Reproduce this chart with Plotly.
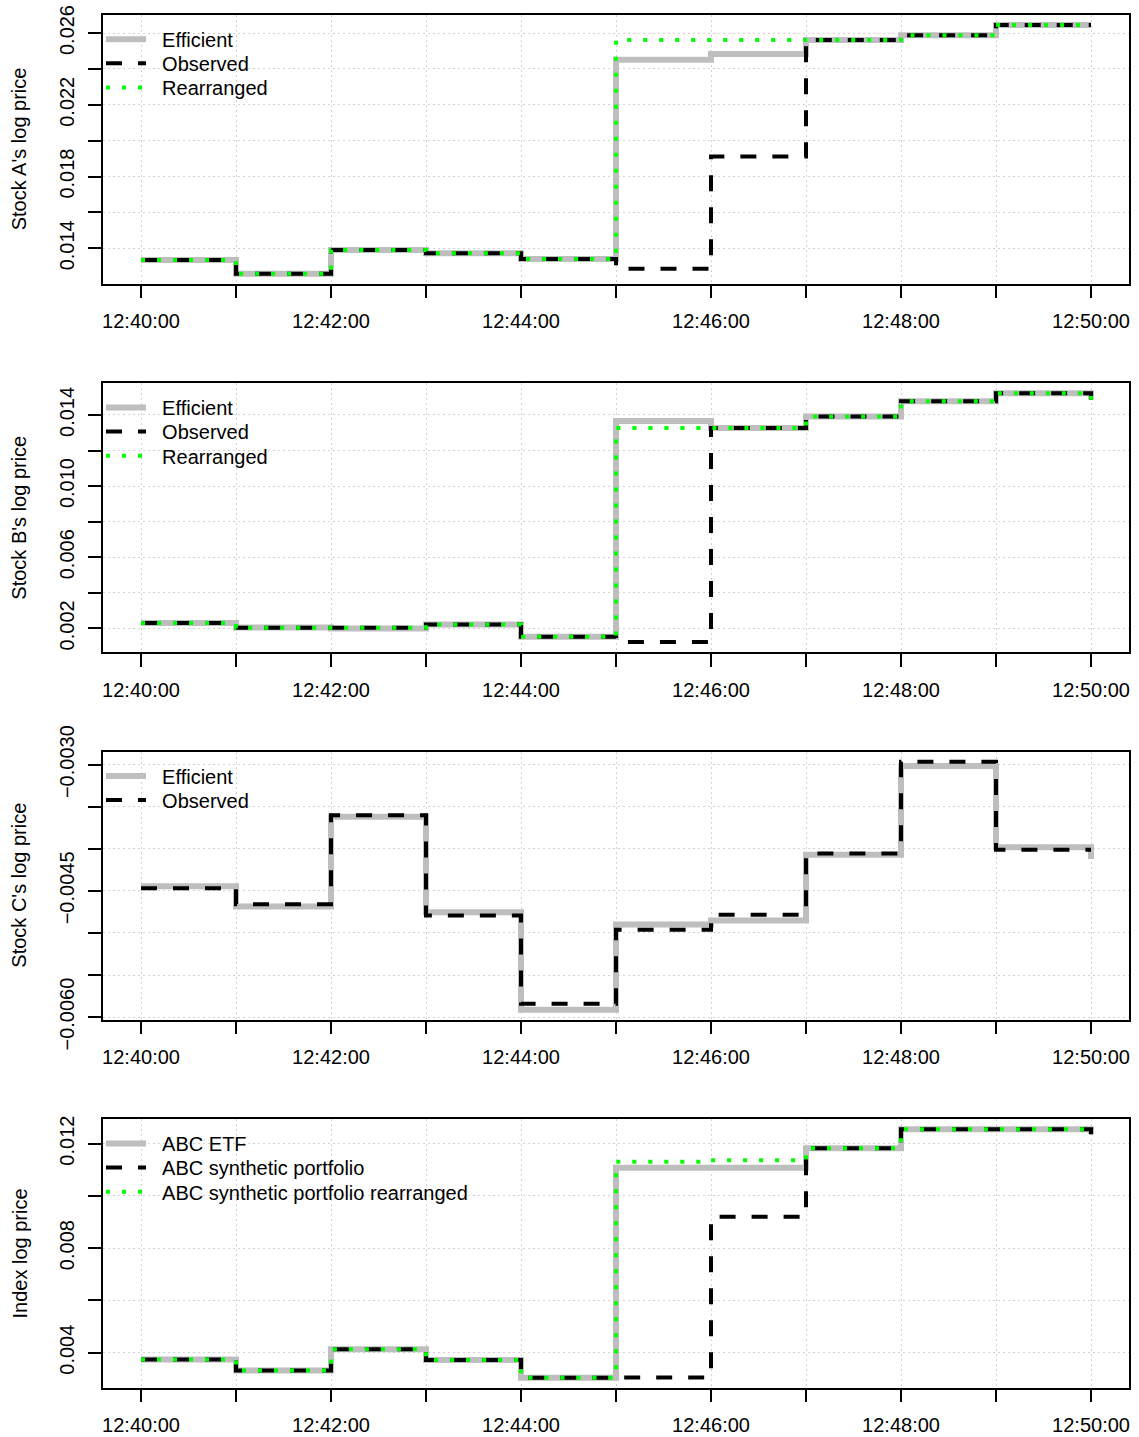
import plotly.graph_objects as go

W, H = 1139, 1437

# ---------------- data ----------------
minutes = list(range(11))  # minutes after 12:40:00
time_tick_vals = list(range(11))
time_tick_text = ["12:40:00", "", "12:42:00", "", "12:44:00", "",
                  "12:46:00", "", "12:48:00", "", "12:50:00"]

a_efficient = [0.01335, 0.01258, 0.01391, 0.01372, 0.01340, 0.02451, 0.02483, 0.02561, 0.02587, 0.02645, 0.02645]
a_observed = [0.01335, 0.01258, 0.01391, 0.01372, 0.01340, 0.01286, 0.01911, 0.02561, 0.02587, 0.02645, 0.02645]
a_rearranged = [0.01335, 0.01258, 0.01391, 0.01372, 0.01340, 0.02561, 0.02561, 0.02561, 0.02587, 0.02645, 0.02645]

b_efficient = [0.00230, 0.00205, 0.00199, 0.00221, 0.00153, 0.01366, 0.01327, 0.01391, 0.01477, 0.01522, 0.01485]
b_observed = [0.00230, 0.00204, 0.00204, 0.00221, 0.00153, 0.00123, 0.01327, 0.01391, 0.01477, 0.01522, 0.01485]
b_rearranged = [0.00230, 0.00204, 0.00204, 0.00221, 0.00153, 0.01327, 0.01327, 0.01391, 0.01477, 0.01522, 0.01485]

c_efficient = [-0.004445, -0.004687, -0.003618, -0.004754, -0.005913, -0.004900, -0.004853, -0.004072, -0.003016, -0.003982, -0.004120]
c_observed = [-0.004469, -0.004659, -0.003602, -0.004793, -0.005842, -0.004963, -0.004785, -0.004057, -0.002964, -0.004010, -0.004010]

idx_etf = [0.003743, 0.003321, 0.004127, 0.003717, 0.003040, 0.011080, 0.011080, 0.011820, 0.012550, 0.012550, 0.012360]
idx_synthetic = [0.003743, 0.003321, 0.004127, 0.003717, 0.003040, 0.003052, 0.009197, 0.011820, 0.012550, 0.012550, 0.012360]
idx_rearranged = [0.003743, 0.003321, 0.004127, 0.003717, 0.003040, 0.011310, 0.011360, 0.011820, 0.012550, 0.012550, 0.012360]

a_ticks = [0.014, 0.016, 0.018, 0.020, 0.022, 0.024, 0.026]
a_tick_text = ["0.014", "", "0.018", "", "0.022", "", "0.026"]
b_ticks = [0.002, 0.004, 0.006, 0.008, 0.010, 0.012, 0.014]
b_tick_text = ["0.002", "", "0.006", "", "0.010", "", "0.014"]
c_ticks = [-0.0060, -0.0055, -0.0050, -0.0045, -0.0040, -0.0035, -0.0030]
c_tick_text = ["\u22120.0060", "", "", "\u22120.0045", "", "", "\u22120.0030"]
i_ticks = [0.004, 0.006, 0.008, 0.010, 0.012]
i_tick_text = ["0.004", "", "0.008", "", "0.012"]

y_titles = ["Stock A's log price", "Stock B's log price", "Stock C's log price", "Index log price"]

# ---------------- styles ----------------
FONT = "Liberation Sans, Arial, Helvetica, sans-serif"
GRAY = dict(color="#BEBEBE", width=6)
BLACK = dict(color="black", width=4, dash="16px,16px")
GREEN = dict(color="#00FF00", width=4, dash="4px,12px")

# box pixel positions (left, right, top, bottom)
box_left, box_right = 103, 1129
box_tops = [15, 383.3, 751.7, 1119.3]
box_bottoms = [283.7, 652, 1019.7, 1387.7]
legend_row_offsets = [24.3, 48.3, 72.5]  # px below box top

panels = [
    dict(series=[("Efficient", a_efficient, GRAY), ("Observed", a_observed, BLACK), ("Rearranged", a_rearranged, GREEN)],
         ticks=a_ticks, ticktext=a_tick_text),
    dict(series=[("Efficient", b_efficient, GRAY), ("Observed", b_observed, BLACK), ("Rearranged", b_rearranged, GREEN)],
         ticks=b_ticks, ticktext=b_tick_text),
    dict(series=[("Efficient", c_efficient, GRAY), ("Observed", c_observed, BLACK)],
         ticks=c_ticks, ticktext=c_tick_text),
    dict(series=[("ABC ETF", idx_etf, GRAY), ("ABC synthetic portfolio", idx_synthetic, BLACK),
                 ("ABC synthetic portfolio rearranged", idx_rearranged, GREEN)],
         ticks=i_ticks, ticktext=i_tick_text),
]

fig = go.Figure()
layout = dict(
    width=W, height=H, margin=dict(l=0, r=0, t=0, b=0, autoexpand=False),
    paper_bgcolor="white", plot_bgcolor="white",
    font=dict(family=FONT, size=20, color="black"),
    annotations=[],
)

legend_count = 0
for i, p in enumerate(panels):
    n = i + 1
    xa = "x" if n == 1 else f"x{n}"
    ya = "y" if n == 1 else f"y{n}"
    allv = [v for _, vals, _ in p["series"] for v in vals]
    lo, hi = min(allv), max(allv)
    pad = 0.04 * (hi - lo)
    for k, (name, vals, style) in enumerate(p["series"]):
        legend_count += 1
        lg = "legend" if legend_count == 1 else f"legend{legend_count}"
        fig.add_trace(go.Scatter(x=minutes, y=vals, mode="lines", line=dict(shape="hv", **style),
                                 name="\u00a0\u00a0" + name, xaxis=xa, yaxis=ya, legend=lg, showlegend=True))
        row_y = box_tops[i] + legend_row_offsets[k]
        layout[lg] = dict(
            x=(box_left - 2) / W, y=1 - row_y / H, xanchor="left", yanchor="middle",
            bgcolor="rgba(0,0,0,0)", borderwidth=0, itemwidth=40,
            font=dict(size=20, family=FONT),
        )
    y0 = 1 - box_bottoms[i] / H
    y1 = 1 - box_tops[i] / H
    xkey = "xaxis" if n == 1 else f"xaxis{n}"
    ykey = "yaxis" if n == 1 else f"yaxis{n}"
    layout[xkey] = dict(
        domain=[box_left / W, box_right / W], anchor=ya, range=[-0.4, 10.4], automargin=False,
        tickmode="array", tickvals=time_tick_vals, ticktext=time_tick_text,
        ticks="outside", ticklen=13, tickwidth=1.5, tickcolor="black",
        showline=True, linecolor="black", linewidth=1.5, mirror=True,
        showgrid=True, gridcolor="#D3D3D3", gridwidth=1, griddash="2px,3px",
        zeroline=False, tickfont=dict(size=20, family=FONT), ticklabelstandoff=6,
    )
    layout[ykey] = dict(
        domain=[y0, y1], anchor=xa, range=[lo - pad, hi + pad], automargin=False,
        tickmode="array", tickvals=p["ticks"], ticktext=p["ticktext"],
        ticks="outside", ticklen=13, tickwidth=1.5, tickcolor="black", tickangle=-90,
        showline=True, linecolor="black", linewidth=1.5, mirror=True,
        showgrid=True, gridcolor="#D3D3D3", gridwidth=1, griddash="2px,3px",
        zeroline=False, tickfont=dict(size=20, family=FONT), ticklabelstandoff=6,
    )
    layout["annotations"].append(dict(
        text=y_titles[i], x=19 / W, y=(y0 + y1) / 2, xref="paper", yref="paper",
        showarrow=False, textangle=-90, font=dict(size=20, family=FONT),
        xanchor="center", yanchor="middle",
    ))

fig.update_layout(**layout)
fig.write_html("out.html")
